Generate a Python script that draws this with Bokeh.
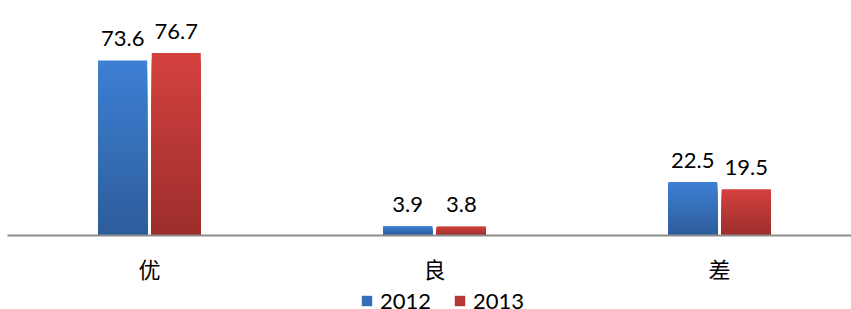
from bokeh.plotting import figure
from bokeh.models import Range1d, FixedTicker, ColumnDataSource, Legend, LegendItem
from bokeh.layouts import column
from bokeh.core.properties import value
from bokeh.embed import file_html
from bokeh.resources import INLINE

categories = ["优", "良", "差"]
series_names = ["2012", "2013"]
values_2012 = [73.6, 3.9, 22.5]
values_2013 = [76.7, 3.8, 19.5]

series = [values_2012, values_2013]
top_colors = [(0x3d, 0x80, 0xd4), (0xd4, 0x41, 0x3f)]
bot_colors = [(0x2d, 0x5c, 0x9a), (0x9c, 0x2e, 0x2c)]
offsets = [-0.094, 0.094]
bar_w = 0.172
N_SEG = 30

# frame spans x 7..851, y 8..235 of the picture
p = figure(frame_width=844, frame_height=227, output_backend="svg", toolbar_location=None,
           x_range=Range1d(-0.498, 2.463), y_range=Range1d(0, 95.46),
           min_border_left=7, min_border_right=0, min_border_top=8, min_border_bottom=46)
p.outline_line_color = None
p.xgrid.visible = False
p.ygrid.visible = False
p.yaxis.visible = False

def hexc(c):
    return "#%02x%02x%02x" % c

sources = []
for s_idx, vals in enumerate(series):
    l, r, b, t, col = [], [], [], [], []
    for i, v in enumerate(vals):
        # draw from top segment down so lower segments overlay (no seams)
        for k in reversed(range(N_SEG)):
            f1 = (k + 1) / N_SEG
            fm = (k + 0.5) / N_SEG
            c = tuple(int(round(bot_colors[s_idx][j] + (top_colors[s_idx][j] - bot_colors[s_idx][j]) * fm)) for j in range(3))
            l.append(i + offsets[s_idx] - bar_w / 2)
            r.append(i + offsets[s_idx] + bar_w / 2)
            b.append(0)
            t.append(v * f1)
            col.append(hexc(c))
    src = ColumnDataSource(dict(left=l, right=r, bottom=b, top=t, color=col))
    sources.append(src)
    p.quad(left="left", right="right", bottom="bottom", top="top", source=src,
           fill_color="color", line_color=None)
    lab_src = ColumnDataSource(dict(x=[i + offsets[s_idx] for i in range(len(vals))], y=vals,
                                    txt=["%.1f" % v for v in vals]))
    p.text(x="x", y="y", text="txt", source=lab_src, text_align="center", text_baseline="bottom",
           y_offset=-14, text_font=value("Lato"), text_font_size="22px", text_color="#000000")

ax = p.xaxis[0]
ax.ticker = FixedTicker(ticks=list(range(len(categories))))
ax.major_label_overrides = {i: c for i, c in enumerate(categories)}
ax.major_label_text_font = "Noto Sans CJK SC"
ax.major_label_text_font_size = "22px"
ax.major_label_text_color = "#000000"
ax.major_label_standoff = 10
ax.major_tick_line_color = None
ax.minor_tick_line_color = None
ax.axis_line_color = "#8c8c8c"
ax.axis_line_width = 2

# legend strip below the chart
p2 = figure(width=851, height=28, output_backend="svg", toolbar_location=None,
            x_range=Range1d(0, 1), y_range=Range1d(0, 1), min_border=0)
p2.outline_line_color = None
p2.xaxis.visible = False
p2.yaxis.visible = False
p2.xgrid.visible = False
p2.ygrid.visible = False
leg_renderers = []
for src in sources:
    rr = p2.quad(left="left", right="right", bottom="bottom", top="top", source=src,
                 fill_color="color", line_color=None)
    rr.visible = False
    leg_renderers.append(rr)

items = [LegendItem(label=series_names[s], renderers=[leg_renderers[s]], index=N_SEG // 2) for s in range(2)]
legend = Legend(items=items, orientation="horizontal", location=(353, 0),
                label_text_font="Lato", label_text_font_size="22px", label_text_color="#000000",
                glyph_width=13, glyph_height=13, label_standoff=7, spacing=22,
                border_line_color=None, background_fill_alpha=0, padding=0, margin=0,
                label_height=20)
p2.add_layout(legend)

open("out.html", "w").write(file_html(column(p, p2, spacing=0), INLINE))
